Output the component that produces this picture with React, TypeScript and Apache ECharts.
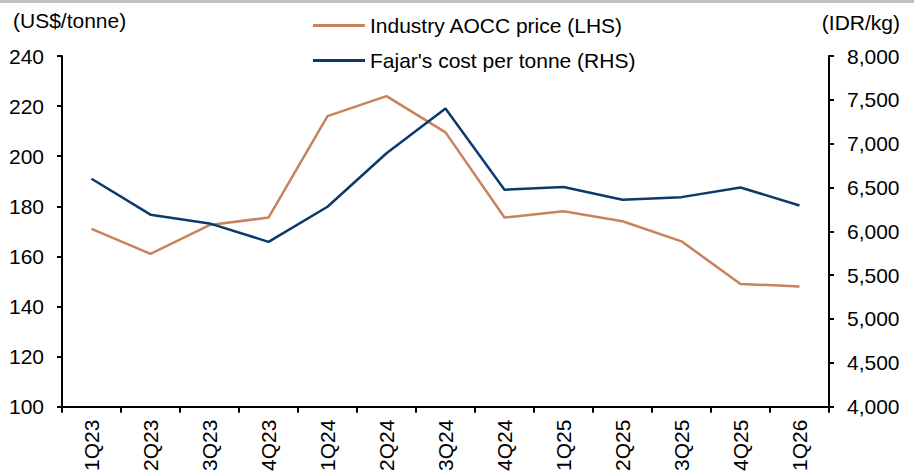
import React, { useEffect, useRef } from "react";
import * as echarts from "echarts";

const categories = ["1Q23", "2Q23", "3Q23", "4Q23", "1Q24", "2Q24", "3Q24", "4Q24", "1Q25", "2Q25", "3Q25", "4Q25", "1Q26"];
const aoccPrice = [171, 161, 172.5, 175.5, 216, 224, 209.5, 175.5, 178, 174, 166, 149, 148];
const fajarCost = [6600, 6190, 6090, 5880, 6280, 6890, 7400, 6475, 6505, 6360, 6390, 6500, 6295];
const seriesNames = ["Industry AOCC price (LHS)", "Fajar's cost per tonne (RHS)"];
const leftUnit = "(US$/tonne)";
const rightUnit = "(IDR/kg)";

const FONT = "'Liberation Sans', Arial, sans-serif";
const FS = 21;

export default function App() {
  const ref = useRef<HTMLDivElement>(null);
  useEffect(() => {
    if (!ref.current) return;
    const chart = echarts.init(ref.current, undefined, { renderer: "svg" });
    const axisCommon = {
      axisLine: { show: true, lineStyle: { color: "#000", width: 2 } },
      axisTick: { show: true, length: 5, lineStyle: { color: "#000", width: 2 } },
      splitLine: { show: false },
    };
    chart.setOption({
      animation: false,
      backgroundColor: "#fff",
      textStyle: { fontFamily: FONT },
      grid: { left: 62, right: 85, top: 56, bottom: 64, containLabel: false },
      legend: {
        orient: "vertical",
        left: 308,
        top: 10,
        icon: "rect",
        itemWidth: 52,
        itemHeight: 3,
        itemGap: 14,
        textStyle: { fontFamily: FONT, fontSize: FS, color: "#000" },
        data: seriesNames,
      },
      xAxis: {
        type: "category",
        data: categories,
        boundaryGap: true,
        axisLine: { show: true, lineStyle: { color: "#000", width: 2 } },
        axisTick: { show: true, interval: 0, length: 6, lineStyle: { color: "#000", width: 2 } },
        axisLabel: { interval: 0, rotate: 90, margin: 13, fontFamily: FONT, fontSize: FS, color: "#000" },
      },
      yAxis: [
        {
          type: "value",
          min: 100,
          max: 240,
          interval: 20,
          position: "left",
          ...axisCommon,
          axisLabel: { margin: 18, fontFamily: FONT, fontSize: FS, color: "#000" },
        },
        {
          type: "value",
          min: 4000,
          max: 8000,
          interval: 500,
          position: "right",
          ...axisCommon,
          axisLabel: {
            margin: 18,
            fontFamily: FONT,
            fontSize: FS,
            color: "#000",
            formatter: (v: number) => v.toLocaleString("en-US"),
          },
        },
      ],
      graphic: [
        { type: "rect", shape: { x: 0, y: 0, width: 914, height: 3 }, style: { fill: "#c0c0c0" } },
        {
          type: "text",
          left: 13,
          top: 10,
          style: { text: leftUnit, fontFamily: FONT, fontSize: FS, fill: "#000" },
        },
        {
          type: "text",
          right: 14,
          top: 12,
          style: { text: rightUnit, fontFamily: FONT, fontSize: FS, fill: "#000" },
        },
      ],
      series: [
        {
          name: seriesNames[0],
          type: "line",
          yAxisIndex: 0,
          data: aoccPrice,
          symbol: "none",
          lineStyle: { color: "#C8825C", width: 2.5 },
          itemStyle: { color: "#C8825C" },
        },
        {
          name: seriesNames[1],
          type: "line",
          yAxisIndex: 1,
          data: fajarCost,
          symbol: "none",
          lineStyle: { color: "#0B3A6B", width: 2.5 },
          itemStyle: { color: "#0B3A6B" },
        },
      ],
    });
    return () => chart.dispose();
  }, []);
  return (
    <div
      ref={ref}
      style={{ position: "fixed", left: 0, top: 0, width: 914, height: 474, background: "#fff" }}
    />
  );
}
